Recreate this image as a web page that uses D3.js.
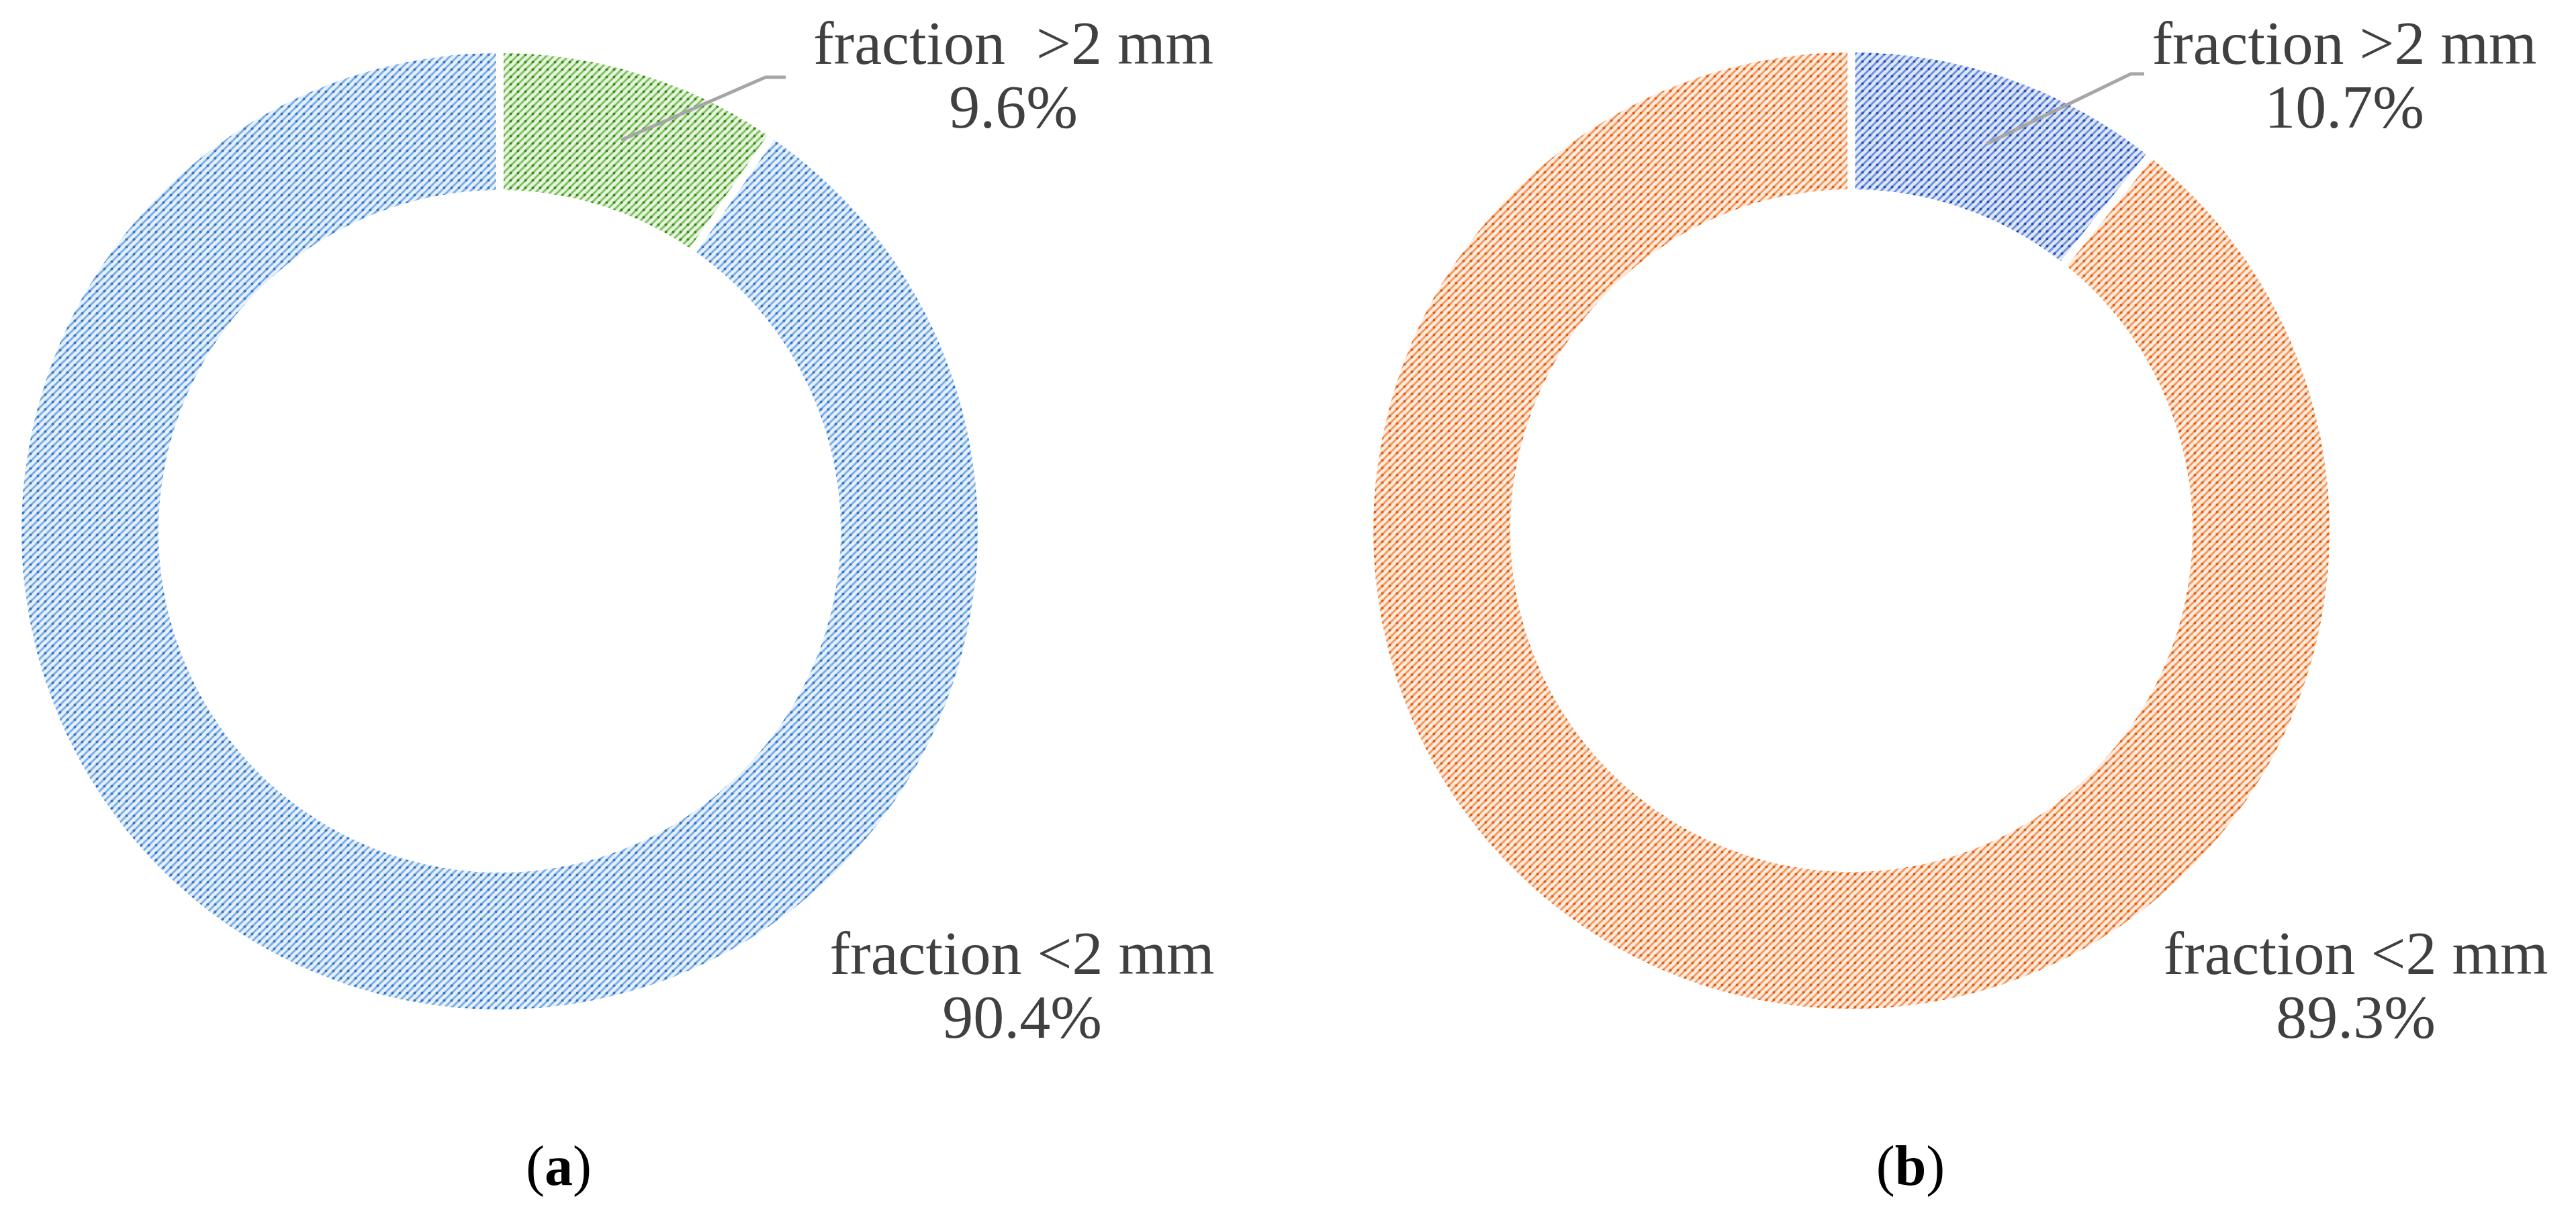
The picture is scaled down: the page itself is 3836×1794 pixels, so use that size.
<!DOCTYPE html>
<html>
<head>
<meta charset="utf-8">
<script src="https://cdn.jsdelivr.net/npm/d3@7"></script>
<style>
  body { margin: 0; background: #fff; }
  text { font-family: "Liberation Serif", "Times New Roman", serif; }
</style>
</head>
<body>
<div id="chart"></div>
<script>
// data
var categories = ["fraction >2 mm", "fraction <2 mm"];
var valuesA = [9.6, 90.4];
var valuesB = [10.7, 89.3];
var panelNames = ["a", "b"];

var width = 3836, height = 1794;
var outerR = 712, innerR = 508;

var svg = d3.select("#chart")
    .append("svg")
    .attr("width", width)
    .attr("height", height);

var defs = svg.append("defs");

// Excel-ish dotted diagonal hatch
function makePattern(id, bg, line, dot) {
    var s = 11;
    var p = defs.append("pattern")
        .attr("id", id)
        .attr("patternUnits", "userSpaceOnUse")
        .attr("width", s)
        .attr("height", s);
    p.append("rect")
        .attr("width", s).attr("height", s)
        .attr("fill", bg);
    p.append("path")
        .attr("d", "M-1," + (s + 1) + " L" + (s + 1) + ",-1 M-1,1 L1,-1 M" + (s - 1) + "," + (s + 1) + " L" + (s + 1) + "," + (s - 1))
        .attr("stroke", line)
        .attr("stroke-width", 3);
    p.append("circle")
        .attr("cx", s / 2).attr("cy", s / 2).attr("r", 2)
        .attr("fill", dot);
}

makePattern("blueA", "#e6f0fb", "#7fade3", "#2f7ad0");
makePattern("greenA", "#e8f3e0", "#82c062", "#2f9418");
makePattern("orangeB", "#fdebe0", "#f29a62", "#e45f08");
makePattern("blueB", "#dfe7f7", "#6f90dc", "#2352c4");

var panels = [
    {
        name: panelNames[0], values: valuesA, cx: 744, cy: 791,
        fills: ["url(#greenA)", "url(#blueA)"],
        topText: "fraction  >2 mm", topX: 1509, elbow: [1140, 115], anchor: [1170, 115],
        botX: 1522, capX: 832
    },
    {
        name: panelNames[1], values: valuesB, cx: 2757, cy: 790,
        fills: ["url(#blueB)", "url(#orangeB)"],
        topText: "fraction >2 mm", topX: 3491, elbow: [3173, 110], anchor: [3193, 110],
        botX: 3508, capX: 2845
    }
];

var pie = d3.pie().sort(null).value(function(d) { return d; });
var arc = d3.arc()
    .innerRadius(innerR)
    .outerRadius(outerR)
    .padRadius(outerR)
    .padAngle(12 / outerR);

function label(x, y, lines) {
    var t = svg.append("text")
        .attr("text-anchor", "middle")
        .attr("font-size", 92)
        .attr("fill", "#404040")
        .style("white-space", "pre");
    lines.forEach(function(s, i) {
        t.append("tspan").attr("x", x).attr("y", y + i * 95).text(s);
    });
}

panels.forEach(function(panel) {
    var g = svg.append("g")
        .attr("transform", "translate(" + panel.cx + "," + panel.cy + ")");

    var arcs = pie(panel.values);

    g.selectAll("path.slice")
        .data(arcs)
        .enter()
        .append("path")
        .attr("class", "slice")
        .attr("d", arc)
        .attr("fill", function(d, i) { return panel.fills[i]; });

    // leader line for the small slice
    var c = arc.centroid(arcs[0]);
    svg.append("polyline")
        .attr("points", [
            [panel.cx + c[0], panel.cy + c[1]],
            panel.elbow,
            panel.anchor
        ].map(function(p) { return p.join(","); }).join(" "))
        .attr("fill", "none")
        .attr("stroke", "#a6a6a6")
        .attr("stroke-width", 5);

    var fmt = function(v) { return v.toFixed(1) + "%"; };

    label(panel.topX, 95, [panel.topText, fmt(panel.values[0])]);
    label(panel.botX, 1450, [categories[1], fmt(panel.values[1])]);

    // caption (a)/(b)
    var cap = svg.append("text")
        .attr("x", panel.capX)
        .attr("y", 1764)
        .attr("text-anchor", "middle")
        .attr("font-size", 84)
        .attr("fill", "#000");
    cap.append("tspan").text("(");
    cap.append("tspan").attr("font-weight", "bold").text(panel.name);
    cap.append("tspan").text(")");
});
</script>
</body>
</html>
